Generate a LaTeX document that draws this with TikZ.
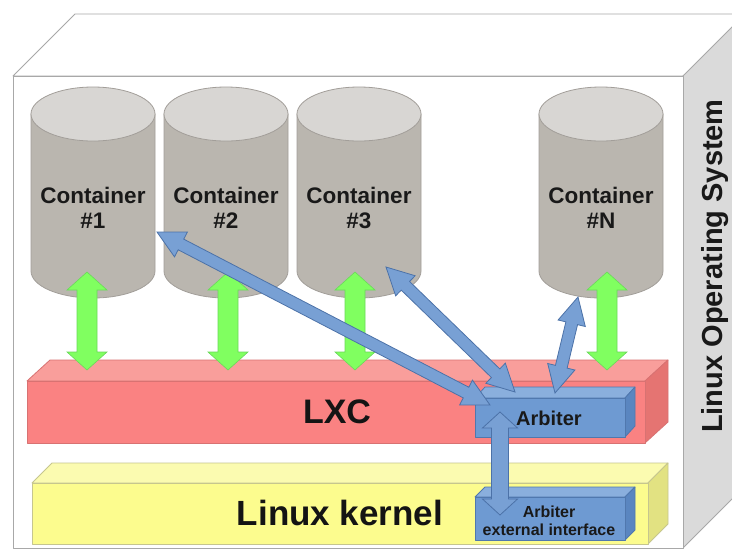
\documentclass[tikz,border=0pt]{standalone}
\usepackage{fontspec}
\setmainfont{Liberation Sans}
\usetikzlibrary{calc}
\definecolor{boxline}{HTML}{A8A8A8}
\definecolor{sideface}{HTML}{DADADA}
\definecolor{cylbody}{HTML}{BAB6AF}
\definecolor{cyltop}{HTML}{D8D6D3}
\definecolor{cylline}{HTML}{A29E99}
\definecolor{redfront}{HTML}{FA8282}
\definecolor{redtop}{HTML}{F99E9B}
\definecolor{redside}{HTML}{E57472}
\definecolor{redline}{HTML}{D87272}
\definecolor{yelfront}{HTML}{FCFC8E}
\definecolor{yeltop}{HTML}{FBFBB0}
\definecolor{yelside}{HTML}{E2E282}
\definecolor{yelline}{HTML}{C6C68E}
\definecolor{bluefront}{HTML}{6E9AD2}
\definecolor{bluetop}{HTML}{8AAFDD}
\definecolor{blueside}{HTML}{5A86C0}
\definecolor{blueline}{HTML}{5078AE}
\definecolor{arrblue}{HTML}{78A0D4}
\definecolor{arrblueline}{HTML}{4C72A8}
\definecolor{arrgreen}{HTML}{80FF60}
\definecolor{arrgreenline}{HTML}{6AD85A}
\newcommand\blockarrow[6]{%
  \coordinate (bah) at ($(#2)!#6!(#3)$);
  \coordinate (bbh) at ($(#3)!#6!(#2)$);
  \path[#1] (#2) -- ($(bah)!#5!90:(#3)$) -- ($(bah)!#4!90:(#3)$)
    -- ($(bbh)!#4!-90:(#2)$) -- ($(bbh)!#5!-90:(#2)$) -- (#3)
    -- ($(bbh)!#5!90:(#2)$) -- ($(bbh)!#4!90:(#2)$)
    -- ($(bah)!#4!-90:(#3)$) -- ($(bah)!#5!-90:(#3)$) -- cycle;
}
\newcommand\cylinder[3]{%
  \path[draw=cylline, fill=cylbody, line width=0.8pt] (#1-62,114) -- (#1-62,271)
    arc[start angle=180, end angle=360, x radius=62pt, y radius=27pt] -- (#1+62,114) -- cycle;
  \path[draw=cylline, fill=cyltop, line width=0.8pt] (#1,114) ellipse[x radius=62pt, y radius=27pt];
  \node[ctext] (#2) at (#1,208) {Container\\\##3};
}
\tikzset{
  ctext/.style={align=center, font=\bfseries\fontsize{22.5}{25}\selectfont, text=black!90, inner sep=0pt},
  bigtext/.style={anchor=base, font=\bfseries\fontsize{35}{40}\selectfont, text=black!92, inner sep=0pt},
  greenarrow/.style={draw=arrgreenline, fill=arrgreen, line width=0.6pt, line join=miter},
  bluearrow/.style={draw=arrblueline, fill=arrblue, line width=0.8pt, line join=miter},
  face/.style={line width=0.8pt, line join=round}
}
\begin{document}
\begin{tikzpicture}[x=1pt, y=-1pt]
\useasboundingbox (0,0) rectangle (732,550);
\clip (0,0) rectangle (732,550);
\fill[white] (0,0) rectangle (732,550);
% outer box (Linux Operating System)
\path[face, draw=boxline, fill=white] (13,76) -- (75,14) -- (760,14) -- (683,76) -- cycle;
\path[face, draw=boxline, fill=sideface] (683,76) -- (760,-1) -- (760,471) -- (683,548) -- cycle;
\path[face, draw=boxline, fill=white] (13,76) rectangle (683,548);
\node[rotate=90, font=\bfseries\fontsize{29}{32}\selectfont, text=black!90, inner sep=0pt] (os) at (715,266) {Linux Operating System};
% containers
\cylinder{93}{c1}{1}
\cylinder{226}{c2}{2}
\cylinder{359}{c3}{3}
\cylinder{601}{cn}{N}
% LXC slab
\path[face, draw=redline, fill=redtop] (27,381) -- (50,360) -- (668,360) -- (645,381) -- cycle;
\path[face, draw=redline, fill=redside] (645,381) -- (668,360) -- (668,422) -- (645,443) -- cycle;
\path[face, draw=redline, fill=redfront] (27,381) rectangle (645,443);
\node[bigtext, font=\bfseries\fontsize{34}{40}\selectfont] (lxc) at (337,423) {LXC};
% Linux kernel slab
\path[face, draw=yelline, fill=yeltop] (32,483) -- (52,463) -- (668,463) -- (648,483) -- cycle;
\path[face, draw=yelline, fill=yelside] (648,483) -- (668,463) -- (668,524) -- (648,544) -- cycle;
\path[face, draw=yelline, fill=yelfront] (32,483) rectangle (648,544);
\node[bigtext] (kernel) at (340,525) {Linux kernel};
% Arbiter box
\path[face, draw=blueline, fill=bluetop] (475,398) -- (485,387) -- (635,387) -- (625,398) -- cycle;
\path[face, draw=blueline, fill=blueside] (625,398) -- (635,387) -- (635,426) -- (625,437) -- cycle;
\path[face, draw=blueline, fill=bluefront] (475,398) rectangle (625,437);
% Arbiter external interface box
\path[face, draw=blueline, fill=bluetop] (475,497) -- (485,487) -- (635,487) -- (625,497) -- cycle;
\path[face, draw=blueline, fill=blueside] (625,497) -- (635,487) -- (635,530) -- (625,540) -- cycle;
\path[face, draw=blueline, fill=bluefront] (475,497) rectangle (625,540);
% connector end points
\coordinate (g1a) at (87,272);  \coordinate (g1b) at (87,370);
\coordinate (g2a) at (228,272); \coordinate (g2b) at (228,370);
\coordinate (g3a) at (355,272); \coordinate (g3b) at (355,370);
\coordinate (gna) at (607,272); \coordinate (gnb) at (607,370);
\coordinate (d1a) at (490,405); \coordinate (d1b) at (157,232);
\coordinate (d2a) at (515,392); \coordinate (d2b) at (386,267);
\coordinate (d3a) at (555,393); \coordinate (d3b) at (578,297);
\coordinate (va) at (500,412);  \coordinate (vb) at (500,515);
% green arrows
\blockarrow{greenarrow}{g1a}{g1b}{10pt}{20pt}{18pt}
\blockarrow{greenarrow}{g2a}{g2b}{10pt}{20pt}{18pt}
\blockarrow{greenarrow}{g3a}{g3b}{10pt}{20pt}{18pt}
\blockarrow{greenarrow}{gna}{gnb}{10pt}{20pt}{18pt}
% blue arrows
\blockarrow{bluearrow}{d1a}{d1b}{6pt}{14pt}{27pt}
\blockarrow{bluearrow}{d2a}{d2b}{6pt}{14pt}{27pt}
\blockarrow{bluearrow}{d3a}{d3b}{6pt}{14pt}{27pt}
\blockarrow{bluearrow}{va}{vb}{8.5pt}{17.5pt}{16pt}
% box texts
\node[font=\bfseries\fontsize{20}{22}\selectfont, text=black!90, inner sep=0pt] (arb) at (549,418) {Arbiter};
\node[align=center, font=\bfseries\fontsize{16}{18}\selectfont, text=black!90, inner sep=0pt] (ext) at (549,521) {Arbiter\\external interface};
\end{tikzpicture}
\end{document}
